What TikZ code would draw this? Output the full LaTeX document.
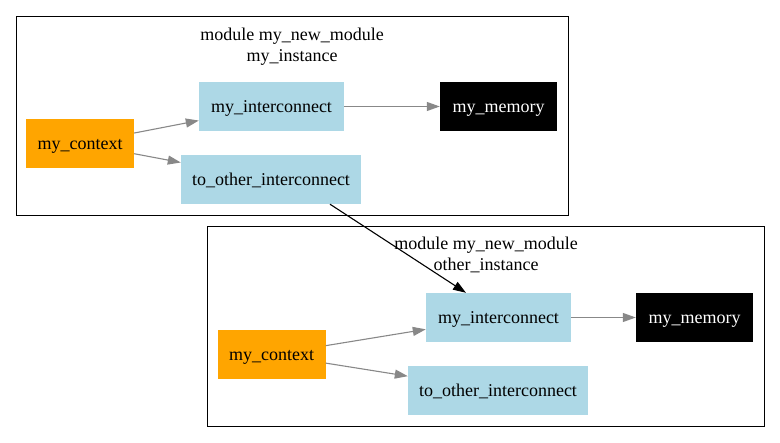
\documentclass[tikz,border=0pt]{standalone}
\usepackage{fontspec}
\setmainfont{Liberation Serif}
\newfontfamily\gvfont{Liberation Serif}
\usetikzlibrary{arrows.meta}
\definecolor{gvorange}{HTML}{FFA500}
\definecolor{gvblue}{HTML}{ADD8E6}
\definecolor{edgegray}{HTML}{888888}
\newcommand\gvsize{\gvfont\fontsize{18}{21}\selectfont}
\tikzset{
  box/.style={draw=none,inner sep=0pt,minimum height=49pt,text height=12pt,text depth=0pt,font=\gvsize},
  ctx/.style={box,fill=gvorange,minimum width=108pt},
  icn/.style={box,fill=gvblue,minimum width=145pt},
  oicn/.style={box,fill=gvblue,minimum width=180pt},
  mem/.style={box,fill=black,text=white,minimum width=117pt},
  cluster/.style={draw=black,line width=0.8pt},
  title/.style={align=center,inner sep=0pt,font=\gvsize},
  gedge/.style={draw=edgegray,line width=1.1pt,-{Triangle[length=13pt,width=9pt]}},
  bedge/.style={draw=black,line width=1.1pt,-{Triangle[length=13pt,width=9pt]}},
}
\begin{document}
\begin{tikzpicture}[x=1pt,y=-1pt]
\useasboundingbox (0,0) rectangle (780,443);
% cluster 1
\draw[cluster] (16,16) rectangle (568,215);
\node[title] (t1) at (292,47) {module my\_new\_module\\my\_instance};
\node[ctx] (c1) at (80,143.5) {my\_context};
\node[icn] (i1) at (271.5,106.5) {my\_interconnect};
\node[oicn] (o1) at (271,179.5) {to\_other\_interconnect};
\node[mem] (m1) at (498.5,106.5) {my\_memory};
% cluster 2
\draw[cluster] (207,226) rectangle (764,426);
\node[title] (t2) at (486,255) {module my\_new\_module\\other\_instance};
\node[ctx] (c2) at (271.5,354.5) {my\_context};
\node[icn] (i2) at (498.5,317.5) {my\_interconnect};
\node[oicn] (o2) at (498,390.5) {to\_other\_interconnect};
\node[mem] (m2) at (694.5,317.5) {my\_memory};
% edges
\draw[gedge] (c1) -- (i1);
\draw[gedge] (c1) -- (o1);
\draw[gedge] (i1) -- (m1);
\draw[gedge] (c2) -- (i2);
\draw[gedge] (c2) -- (o2);
\draw[gedge] (i2) -- (m2);
\draw[bedge] ([xshift=59pt]o1.south) -- ([xshift=-32.5pt]i2.north);
\end{tikzpicture}
\end{document}
